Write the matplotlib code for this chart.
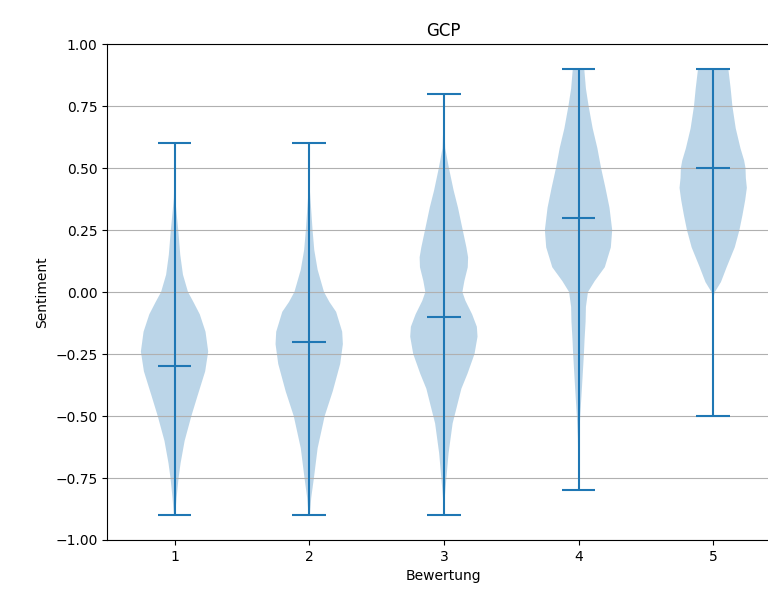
import matplotlib
matplotlib.use("Agg")
import numpy as np
import matplotlib.pyplot as plt

# Bewertung categories
ratings = [1, 2, 3, 4, 5]

# summary stats
mins = [-0.9, -0.9, -0.9, -0.8, -0.5]
maxs = [0.6, 0.6, 0.8, 0.9, 0.9]
medians = [-0.3, -0.2, -0.1, 0.3, 0.5]

# density outlines (sentiment value, relative width)
coords_1 = [-0.9, -0.83, -0.75, -0.69, -0.6, -0.5, -0.42, -0.32, -0.24, -0.16, -0.09, -0.04, 0.0, 0.07, 0.15, 0.25, 0.32, 0.38, 0.45, 0.5, 0.6]
dens_1 = [0.02, 0.06, 0.12, 0.18, 0.30, 0.50, 0.68, 0.91, 1.00, 0.92, 0.75, 0.56, 0.40, 0.25, 0.17, 0.11, 0.06, 0.02, 0.008, 0.004, 0.002]

coords_2 = [-0.9, -0.83, -0.75, -0.63, -0.5, -0.4, -0.29, -0.21, -0.16, -0.08, -0.04, 0.0, 0.09, 0.17, 0.25, 0.33, 0.41, 0.5, 0.6]
dens_2 = [0.02, 0.06, 0.14, 0.25, 0.46, 0.70, 0.92, 1.00, 0.98, 0.80, 0.60, 0.44, 0.25, 0.15, 0.10, 0.06, 0.02, 0.005, 0.002]

coords_3 = [-0.9, -0.86, -0.79, -0.65, -0.53, -0.39, -0.33, -0.25, -0.18, -0.14, -0.09, -0.035, 0.0, 0.045, 0.10, 0.14, 0.18, 0.25, 0.34, 0.41, 0.5, 0.58, 0.7, 0.8]
dens_3 = [0.005, 0.01, 0.05, 0.14, 0.26, 0.52, 0.70, 0.91, 1.00, 0.98, 0.84, 0.64, 0.55, 0.61, 0.71, 0.72, 0.67, 0.56, 0.42, 0.29, 0.15, 0.04, 0.008, 0.002]

coords_4 = [-0.8, -0.7, -0.59, -0.5, -0.39, -0.25, -0.19, -0.12, -0.06, 0.0, 0.044, 0.10, 0.18, 0.25, 0.34, 0.42, 0.5, 0.58, 0.66, 0.75, 0.82, 0.9]
dens_4 = [0.003, 0.006, 0.02, 0.05, 0.10, 0.16, 0.18, 0.21, 0.22, 0.28, 0.48, 0.78, 0.96, 1.00, 0.92, 0.80, 0.67, 0.56, 0.42, 0.30, 0.22, 0.17]

coords_5 = [-0.5, -0.2, -0.02, 0.0, 0.04, 0.10, 0.18, 0.25, 0.31, 0.37, 0.42, 0.46, 0.5, 0.53, 0.58, 0.66, 0.75, 0.82, 0.9]
dens_5 = [0.001, 0.002, 0.01, 0.05, 0.23, 0.40, 0.64, 0.78, 0.87, 0.95, 1.00, 0.97, 0.96, 0.92, 0.81, 0.67, 0.57, 0.52, 0.45]

coords = [coords_1, coords_2, coords_3, coords_4, coords_5]
dens = [dens_1, dens_2, dens_3, dens_4, dens_5]

vpstats = []
for i in range(len(ratings)):
    vpstats.append({
        'coords': np.array(coords[i]),
        'vals': np.array(dens[i]),
        'mean': medians[i],
        'median': medians[i],
        'min': mins[i],
        'max': maxs[i],
        'quantiles': [],
    })

fig = plt.figure(figsize=(7.68, 5.99), dpi=100)
# axes run past the right edge, as in the original crop
ax = fig.add_axes([0.1396, 0.0985, 0.8767, 0.828])

ax.violin(vpstats, positions=ratings, widths=0.5, showmedians=True)
ax.yaxis.grid(True)
ax.spines['right'].set_visible(False)
ax.set_xticks(ratings)
ax.set_xlim(0.5, 5.5)
ax.set_ylim(-1.0, 1.0)
ax.set_title('GCP')
ax.set_xlabel('Bewertung')
ax.set_ylabel('Sentiment')

plt.savefig('out.png', dpi=100)
